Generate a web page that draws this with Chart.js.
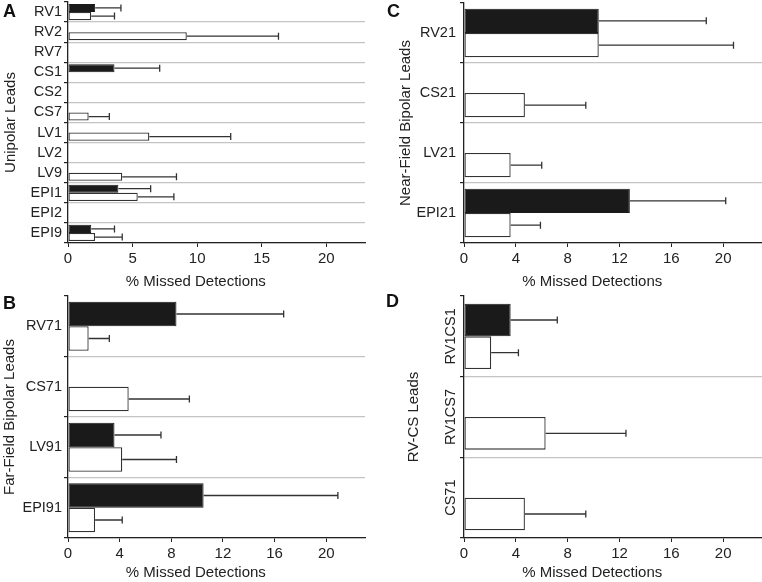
<!DOCTYPE html>
<html>
<head>
<meta charset="utf-8">
<script src="https://cdn.jsdelivr.net/npm/chart.js@4.4.0/dist/chart.umd.min.js"></script>
<style>
  html, body { margin: 0; padding: 0; background: #fff; }
  #wrap { position: relative; width: 762px; height: 582px; }
  .panel { position: absolute; }
</style>
</head>
<body>
<div id="wrap">
  <div class="panel" style="left:0;top:0;width:381px;height:290px"><canvas id="chartA"></canvas></div>
  <div class="panel" style="left:381px;top:0;width:381px;height:290px"><canvas id="chartC"></canvas></div>
  <div class="panel" style="left:0;top:290px;width:381px;height:292px"><canvas id="chartB"></canvas></div>
  <div class="panel" style="left:381px;top:290px;width:381px;height:292px"><canvas id="chartD"></canvas></div>
</div>
<script>
// panel A - unipolar leads
const leadsA = ['RV1', 'RV2', 'RV7', 'CS1', 'CS2', 'CS7', 'LV1', 'LV2', 'LV9', 'EPI1', 'EPI2', 'EPI9'];
const blackA = [2.1, null, null, 3.6, null, null, null, null, null, 3.9, null, 1.8];
const blackSdA = [2.0, null, null, 3.5, null, null, null, null, null, 2.5, null, 1.8];
const whiteA = [1.8, 9.2, null, null, null, 1.6, 6.3, null, 4.2, 5.4, null, 2.1];
const whiteSdA = [1.8, 7.1, null, null, null, 1.6, 6.3, null, 4.2, 2.8, null, 2.1];

// panel B - far-field bipolar
const leadsB = ['RV71', 'CS71', 'LV91', 'EPI91'];
const blackB = [8.4, null, 3.6, 10.5];
const blackSdB = [8.3, null, 3.6, 10.4];
const whiteB = [1.6, 4.7, 4.2, 2.1];
const whiteSdB = [1.6, 4.7, 4.2, 2.1];

// panel C - near-field bipolar
const leadsC = ['RV21', 'CS21', 'LV21', 'EPI21'];
const blackC = [10.4, null, null, 12.8];
const blackSdC = [8.3, null, null, 7.4];
const whiteC = [10.4, 4.7, 3.6, 3.6];
const whiteSdC = [10.4, 4.7, 2.4, 2.3];

// panel D - RV-CS leads
const leadsD = ['RV1CS1', 'RV1CS7', 'CS71'];
const blackD = [3.6, null, null];
const blackSdD = [3.6, null, null];
const whiteD = [2.1, 6.3, 4.7];
const whiteSdD = [2.1, 6.2, 4.7];

const xMax = 23;
const stepA = 5;
const stepBCD = 4;
const xTitle = '% Missed Detections';

const FONT = '"Liberation Sans", Arial, sans-serif';
Chart.defaults.font.family = FONT;
Chart.defaults.font.size = 14;
Chart.defaults.color = '#222';

// error bars drawn from bar end to value + sd
const errorBars = {
  id: 'errorBars',
  afterDatasetsDraw(chart) {
    const ctx = chart.ctx;
    const xs = chart.scales.x;
    ctx.save();
    ctx.strokeStyle = '#333';
    ctx.lineWidth = 1.3;
    chart.data.datasets.forEach((ds, di) => {
      const meta = chart.getDatasetMeta(di);
      meta.data.forEach((bar, i) => {
        const v = ds.data[i], sd = ds.sd[i];
        if (v == null || sd == null) return;
        const x1 = xs.getPixelForValue(v + sd);
        ctx.beginPath();
        ctx.moveTo(bar.x, bar.y);
        ctx.lineTo(x1, bar.y);
        ctx.moveTo(x1, bar.y - 3.5);
        ctx.lineTo(x1, bar.y + 3.5);
        ctx.stroke();
      });
    });
    ctx.restore();
  }
};

// panel letter, x axis title (centred under 0..20 like the original), rotated labels for D
function extrasPlugin(p) {
  return {
    id: 'extras' + p.letter,
    afterDraw(chart) {
      const ctx = chart.ctx;
      ctx.save();
      ctx.font = 'bold 18px ' + FONT;
      ctx.fillStyle = '#111';
      ctx.textAlign = 'left';
      ctx.textBaseline = 'middle';
      ctx.fillText(p.letter, p.lx, p.ly);
      ctx.font = '15px ' + FONT;
      ctx.fillStyle = '#222';
      ctx.textAlign = 'center';
      ctx.fillText(xTitle, chart.scales.x.getPixelForValue(9.9), p.ty);
      if (p.rotate) {
        const ys = chart.scales.y;
        ctx.font = '14.5px ' + FONT;
        chart.data.labels.forEach((lab, i) => {
          ctx.save();
          ctx.translate(70, ys.getPixelForTick(i));
          ctx.rotate(-Math.PI / 2);
          ctx.fillText(lab, 0, 0);
          ctx.restore();
        });
      }
      ctx.restore();
    }
  };
}

function makePanel(id, p) {
  return new Chart(document.getElementById(id), {
    type: 'bar',
    data: {
      labels: p.labels,
      datasets: [
        { data: p.black, sd: p.blackSd, backgroundColor: '#1a1a1a', borderColor: '#1a1a1a',
          borderWidth: 1, borderSkipped: false },
        { data: p.white, sd: p.whiteSd, backgroundColor: '#fff', borderColor: '#333',
          borderWidth: 1.3, borderSkipped: false }
      ]
    },
    options: {
      indexAxis: 'y',
      responsive: true,
      maintainAspectRatio: false,
      animation: false,
      datasets: { bar: { categoryPercentage: 0.81, barPercentage: 1 } },
      layout: { padding: { top: p.top, right: p.right, left: 0, bottom: 0 } },
      plugins: { legend: { display: false }, tooltip: { enabled: false } },
      scales: {
        x: {
          min: 0, max: xMax,
          ticks: { stepSize: p.step, includeBounds: false, padding: 3, font: { size: 15 } },
          grid: { drawOnChartArea: false, drawTicks: true, tickLength: 4, tickColor: '#222' },
          border: { color: '#222', width: 1.3 },
          afterFit(s) { s.height = p.xh; s.paddingRight = 0; }
        },
        y: {
          ticks: {
            padding: p.tickPad, autoSkip: false, font: { size: 14.5 },
            color: p.rotate ? 'rgba(0,0,0,0)' : '#222'
          },
          grid: {
            offset: true,
            color: c => c.index === 0 ? 'rgba(0,0,0,0)' : '#c4c4c4',
            lineWidth: 1.2,
            tickLength: 4,
            tickColor: '#222'
          },
          border: { color: '#222', width: 1.3 },
          title: { display: true, text: p.yTitle, font: { size: 15 }, padding: { top: p.titlePad, bottom: 0 } },
          afterFit(s) { s.width = p.yw; s.paddingTop = 0; s.paddingBottom = 0; }
        }
      }
    },
    plugins: [errorBars, extrasPlugin(p)]
  });
}

makePanel('chartA', {
  labels: leadsA, black: blackA, blackSd: blackSdA, white: whiteA, whiteSd: whiteSdA,
  step: stepA, top: 2, right: 16, xh: 47, yw: 68, tickPad: 2, titlePad: 1.5,
  yTitle: 'Unipolar Leads', letter: 'A', lx: 3, ly: 12, ty: 282
});
makePanel('chartB', {
  labels: leadsB, black: blackB, blackSd: blackSdB, white: whiteB, whiteSd: whiteSdB,
  step: stepBCD, top: 6, right: 16, xh: 44, yw: 68, tickPad: 2, titlePad: 0.5,
  yTitle: 'Far-Field Bipolar Leads', letter: 'B', lx: 3, ly: 14, ty: 283
});
makePanel('chartC', {
  labels: leadsC, black: blackC, blackSd: blackSdC, white: whiteC, whiteSd: whiteSdC,
  step: stepBCD, top: 3, right: 0, xh: 47, yw: 83, tickPad: 4, titlePad: 15.5,
  yTitle: 'Near-Field Bipolar Leads', letter: 'C', lx: 6, ly: 12, ty: 282
});
makePanel('chartD', {
  labels: leadsD, black: blackD, blackSd: blackSdD, white: whiteD, whiteSd: whiteSdD,
  step: stepBCD, top: 6, right: 0, xh: 44, yw: 83, tickPad: 4, titlePad: 23.5,
  yTitle: 'RV-CS Leads', letter: 'D', lx: 5, ly: 12, ty: 283, rotate: true
});
</script>
</body>
</html>
